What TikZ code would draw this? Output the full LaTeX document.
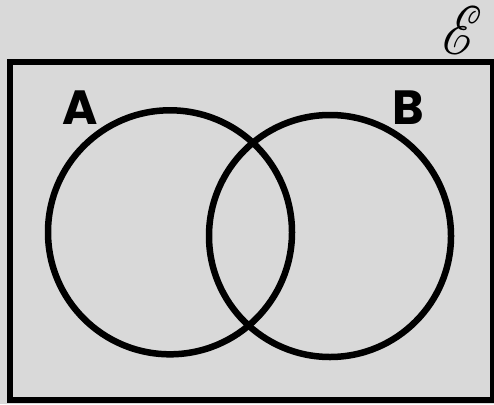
\documentclass[tikz,border=0pt]{standalone}
\usepackage{fontspec}
\usepackage{mathrsfs}
\newfontfamily\labelfont{Poppins}
\definecolor{bggray}{RGB}{217,217,217}
\tikzset{
  setline/.style={line width=6.5pt, draw=black},
  setlabel/.style={font=\labelfont\fontsize{48}{48}\selectfont\bfseries, inner sep=0pt},
}
\begin{document}
\begin{tikzpicture}[x=1pt, y=-1pt]
  \useasboundingbox (0,0) rectangle (494,404);
  \fill[bggray] (0,0) rectangle (494,404);
  \draw[line width=6pt] (10,62) rectangle (492.5,400);
  \node[inner sep=0pt] (E) at (462,30) {\resizebox{40pt}{48pt}{$\mathscr{E}$}};
  \draw[setline] (170,232.3) circle (122);
  \draw[setline] (330,236) circle (121);
  \node[setlabel] (A) at (80,108) {A};
  \node[setlabel] (B) at (408,108) {B};
\end{tikzpicture}
\end{document}
